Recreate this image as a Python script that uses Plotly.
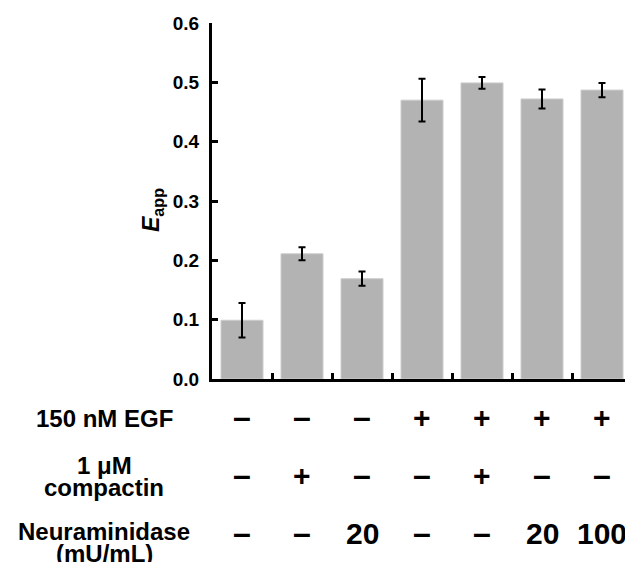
import plotly.graph_objects as go

positions = [0, 1, 2, 3, 4, 5, 6]
values = [0.099, 0.211, 0.169, 0.470, 0.499, 0.472, 0.487]
errors = [0.029, 0.011, 0.012, 0.036, 0.010, 0.016, 0.012]

egf = ["–", "–", "–", "+", "+", "+", "+"]
compactin = ["–", "+", "–", "–", "+", "–", "–"]
neuraminidase = ["–", "–", "20", "–", "–", "20", "100"]
row_label_lines = [["150 nM EGF"], ["1 μM", "compactin"], ["Neuraminidase", "(mU/mL)"]]
y_title = "<b><i>E</i><sub>app</sub></b>"

FONT = "Liberation Sans, Arial, sans-serif"

# page has an 8px body margin; work in figure coordinates
OFF = 8
W, H = 633 - OFF, 562 - OFF
H_TOP, H_BOT, L, R = 23 - OFF, 379 - OFF, 212 - OFF, 632 - OFF
plot_h = H_BOT - H_TOP
plot_w = R - L

fig = go.Figure()
fig.add_trace(go.Bar(
    x=positions, y=values,
    marker=dict(color="#b3b3b3", line=dict(color="#cccccc", width=1)),
    error_y=dict(type="data", array=errors, color="black", thickness=2, width=3.5),
    width=0.7,
))

def ypaper(py):
    return (H_BOT - (py - OFF)) / plot_h

def xpaper(px):
    return ((px - OFF) - L) / plot_w

row_sym_y = [417, 475, 533]
row_label_y = [[418], [466, 488], [531, 553]]
for syms, sy, lines, lys in zip([egf, compactin, neuraminidase], row_sym_y, row_label_lines, row_label_y):
    for xi, s in zip(positions, syms):
        size = 32 if s == "–" else 30
        fig.add_annotation(x=xi, y=ypaper(sy), xref="x", yref="paper", text=s,
                           showarrow=False, xanchor="center", yanchor="middle",
                           font=dict(family=FONT, size=size, color="black", weight="bold"))
    for line, ly in zip(lines, lys):
        fig.add_annotation(x=xpaper(104), y=ypaper(ly), xref="paper", yref="paper", text=line,
                           showarrow=False, xanchor="center", yanchor="middle",
                           font=dict(family=FONT, size=24, color="black", weight="bold"))

# y-axis title
fig.add_annotation(x=xpaper(152), y=ypaper(210), xref="paper", yref="paper", text=y_title,
                   textangle=-90, showarrow=False, xanchor="center", yanchor="middle",
                   font=dict(family=FONT, size=23, color="black"))

fig.update_layout(
    width=W, height=H,
    margin=dict(l=L, r=W - R, t=H_TOP, b=H - H_BOT, autoexpand=False),
    plot_bgcolor="white", paper_bgcolor="white",
    showlegend=False,
    font=dict(family=FONT, color="black"),
)
fig.update_xaxes(
    range=[-0.5, 6.5], showgrid=False, zeroline=False, automargin=False,
    showline=True, linecolor="black", linewidth=3,
    tickmode="array", tickvals=[0.5, 1.5, 2.5, 3.5, 4.5, 5.5, 6.5], ticktext=[""] * 7,
    ticks="inside", ticklen=6, tickwidth=3, tickcolor="black",
)
fig.update_yaxes(
    range=[0, 0.6], showgrid=False, zeroline=False, automargin=False,
    showline=True, linecolor="black", linewidth=3,
    tickmode="linear", tick0=0, dtick=0.1, tickformat=".1f",
    ticks="inside", ticklen=6, tickwidth=3, tickcolor="black",
    ticklabelstandoff=6,
    tickfont=dict(family=FONT, size=19, color="black", weight="bold"),
)

fig.write_html("out.html")
